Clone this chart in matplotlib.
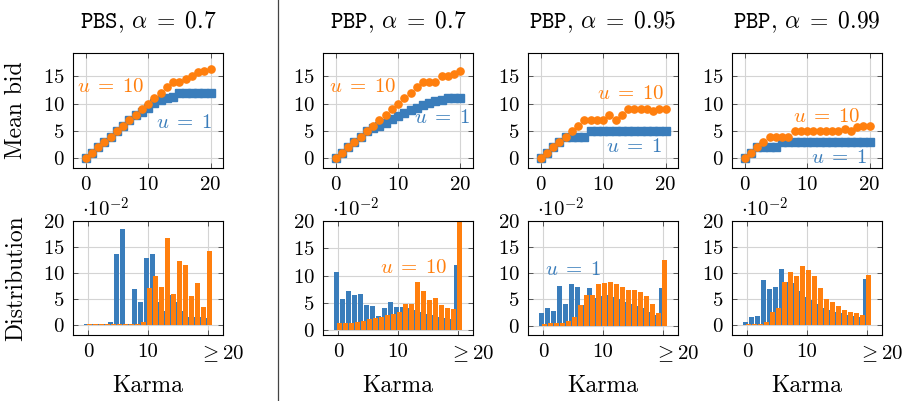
import matplotlib
matplotlib.use('Agg')
import matplotlib.pyplot as plt
import matplotlib.transforms as mtransforms
from matplotlib.lines import Line2D
import numpy as np

plt.rcParams['font.family'] = 'cmr10'
plt.rcParams['mathtext.fontset'] = 'cm'
plt.rcParams['axes.formatter.use_mathtext'] = True

BLUE = '#3a7dbb'
ORANGE = '#ff7f0e'

karma = np.arange(21)

titles = [r'$\mathtt{PBS}$, $\alpha\;=\;0.7$', r'$\mathtt{PBP}$, $\alpha\;=\;0.7$',
          r'$\mathtt{PBP}$, $\alpha\;=\;0.95$', r'$\mathtt{PBP}$, $\alpha\;=\;0.99$']
lab_u10 = r'$u\;=\;10$'
lab_u1 = r'$u\;=\;1$'

# mean bid per karma level
bid_u1_pbs07 = [0, 1, 2, 3, 4, 5, 6, 7, 8, 8.4, 9.2, 10.2, 10.6, 11, 11.2, 12, 12, 12, 12, 12, 12]
bid_u10_pbs07 = [0, 1, 2, 3, 4, 5, 6, 7, 8, 9, 10, 11, 12, 13, 14, 14, 14.5, 15, 15.8, 16, 16.4]
bid_u1_pbp07 = [0, 1, 2, 3, 4, 5, 5.5, 6, 6.5, 7.2, 7.8, 8.3, 8.8, 9.2, 9.8, 10.2, 10.4, 10.6, 11, 11, 11]
bid_u10_pbp07 = [0, 1, 2, 3, 4, 5, 6, 7, 8, 9, 10, 11, 12, 13, 14, 14, 14, 15, 15, 15.4, 16]
bid_u1_pbp095 = [0, 1, 2, 3, 4, 4, 4, 4, 5, 5, 5, 5, 5, 5, 5, 5, 5, 5, 5, 5, 5]
bid_u10_pbp095 = [0, 1, 2, 3, 4, 5, 6, 7, 7, 7, 7, 8, 7, 8, 9, 9, 9, 9, 8.7, 9, 9.1]
bid_u1_pbp099 = [0, 1, 2, 2, 2, 2, 3, 3, 3, 3, 3, 3, 3, 3, 3, 3, 3, 3, 3, 3, 3]
bid_u10_pbp099 = [0, 1, 2, 3, 4, 4, 4, 4, 5, 5, 5, 5, 5, 5, 5, 5, 5.4, 5, 5.8, 6, 5.9]

# karma distribution (in units of 1e-2), last bin is >= 20
dist_u1_pbs07 = [0.2, 0.2, 0.2, 0.2, 0.5, 13.6, 18.4, 0.2, 6.8, 4.4, 12.9, 13.7, 4.4, 2.7, 5.7, 4.4, 2.7, 1.4, 1.4, 1.4, 1.3]
dist_u10_pbs07 = [0.2, 0.2, 0.2, 0.2, 0.2, 0.2, 0.2, 0.2, 0.2, 0.5, 7.0, 9.3, 7.3, 16.7, 5.9, 12.2, 11.6, 5.6, 8.1, 3.5, 14.3]
dist_u1_pbp07 = [10.6, 5.7, 7.1, 6.5, 6.6, 4.6, 4.4, 2.6, 4.0, 5.2, 4.2, 4.2, 4.0, 3.6, 3.3, 3.0, 2.7, 2.4, 2.2, 2.0, 11.9]
dist_u10_pbp07 = [1.3, 1.3, 1.3, 1.5, 1.7, 2.0, 2.3, 2.4, 2.8, 2.9, 3.4, 4.8, 4.7, 8.8, 7.1, 5.5, 5.8, 4.6, 4.1, 3.9, 22.0]
dist_u1_pbp095 = [2.4, 3.3, 2.8, 7.6, 4.2, 7.9, 7.3, 4.0, 7.1, 5.3, 5.6, 5.8, 5.5, 5.0, 4.6, 4.2, 3.8, 3.3, 2.6, 2.0, 7.2]
dist_u10_pbp095 = [0.3, 0.4, 0.4, 0.5, 0.8, 1.6, 4.0, 5.9, 5.8, 7.9, 8.2, 8.4, 8.0, 7.4, 6.8, 6.8, 6.5, 5.6, 4.1, 2.5, 12.6]
dist_u1_pbp099 = [0.5, 1.4, 1.7, 8.6, 6.9, 7.3, 10.8, 8.3, 8.0, 6.5, 5.4, 4.8, 3.9, 3.3, 2.9, 2.5, 2.2, 1.9, 1.7, 1.5, 8.8]
dist_u10_pbp099 = [0.2, 0.2, 0.2, 0.5, 2.4, 3.2, 8.2, 10.1, 9.3, 11.4, 10.5, 9.3, 7.1, 4.9, 4.4, 3.6, 2.9, 2.5, 2.2, 1.8, 9.6]

bids = [(bid_u1_pbs07, bid_u10_pbs07), (bid_u1_pbp07, bid_u10_pbp07),
        (bid_u1_pbp095, bid_u10_pbp095), (bid_u1_pbp099, bid_u10_pbp099)]
dists = [(dist_u1_pbs07, dist_u10_pbs07), (dist_u1_pbp07, dist_u10_pbp07),
         (dist_u1_pbp095, dist_u10_pbp095), (dist_u1_pbp099, dist_u10_pbp099)]

# label positions (data coords): (x, y, ha) for u=10 and u=1
top_labels = [((-1.3, 13, 'left'), (20.3, 6.5, 'right')),
              ((-1.1, 13, 'left'), (21.6, 7.4, 'right')),
              ((19.9, 11.7, 'right'), (19.5, 2.0, 'right')),
              ((18.6, 7.6, 'right'), (19.7, 0.0, 'right'))]
bot_ymin = [-2.0, -0.9, -1.8, -2.0]

W, H = 907, 401
fig = plt.figure(figsize=(W / 100, H / 100), dpi=100)
lefts = [73, 323, 528, 732]
aw, ah = 150, 115


def style(ax):
    ax.grid(True, color='#d4d4d4', lw=0.8)
    ax.set_axisbelow(True)
    ax.tick_params(direction='in', top=True, right=True, length=3.5, width=0.7,
                   color='#555555', labelsize=15, pad=6)
    for s in ax.spines.values():
        s.set_linewidth(0.8)


for i in range(4):
    ax = fig.add_axes([lefts[i] / W, 1 - 168 / H, aw / W, ah / H])
    u1, u10 = bids[i]
    ax.plot(karma, u1, 's', color=BLUE, ms=5.2, mec=BLUE)
    ax.plot(karma, u10, 'o', color=ORANGE, ms=5.2, mec=ORANGE)
    ax.set_xlim(-2, 22)
    ax.set_ylim(-1.75, 19.25)
    ax.set_xticks([0, 10, 20])
    ax.set_yticks([0, 5, 10, 15])
    style(ax)
    ax.set_title(titles[i], fontsize=17, pad=18)
    (x10, y10, h10), (x1, y1, h1) = top_labels[i]
    ax.text(x10, y10, lab_u10, color=ORANGE, fontsize=15, ha=h10, va='center')
    ax.text(x1, y1, lab_u1, color=BLUE, fontsize=15, ha=h1, va='center')

    bx = fig.add_axes([lefts[i] / W, 1 - 335 / H, aw / W, 114 / H])
    d1, d10 = dists[i]
    bx.bar(karma - 0.25, d1, width=0.85, color=BLUE, linewidth=0)
    bx.bar(karma + 0.25, d10, width=0.85, color=ORANGE, linewidth=0)
    bx.set_xlim(-2.5, 22.5)
    bx.set_ylim(bot_ymin[i], 20)
    bx.set_xticks([0, 10, 20])
    bx.set_xticklabels(['0', '10', r'$\geq 20$'])
    bx.set_yticks([0, 5, 10, 15, 20])
    style(bx)
    lab = bx.get_xticklabels()[2]
    lab.set_transform(lab.get_transform() + mtransforms.ScaledTranslation(14 / 100, 0, fig.dpi_scale_trans))
    bx.text(0.06, 1.0, r'$\cdot 10^{-2}$', transform=bx.transAxes, fontsize=15, va='bottom')
    bx.set_xlabel('Karma', fontsize=17, labelpad=8)
    if i == 1:
        bx.text(7.0, 11.4, lab_u10, color=ORANGE, fontsize=15, va='center')
    if i == 2:
        bx.text(0.3, 10.6, lab_u1, color=BLUE, fontsize=15, va='center')

fig.text(16 / W, 1 - 110 / H, 'Mean bid', rotation=90, fontsize=17, ha='center', va='center')
fig.text(16 / W, 1 - 278 / H, 'Distribution', rotation=90, fontsize=17, ha='center', va='center')
fig.add_artist(Line2D([278 / W, 278 / W], [0, 1], color='#444444', lw=0.9))

fig.savefig('out.png', dpi=100)
